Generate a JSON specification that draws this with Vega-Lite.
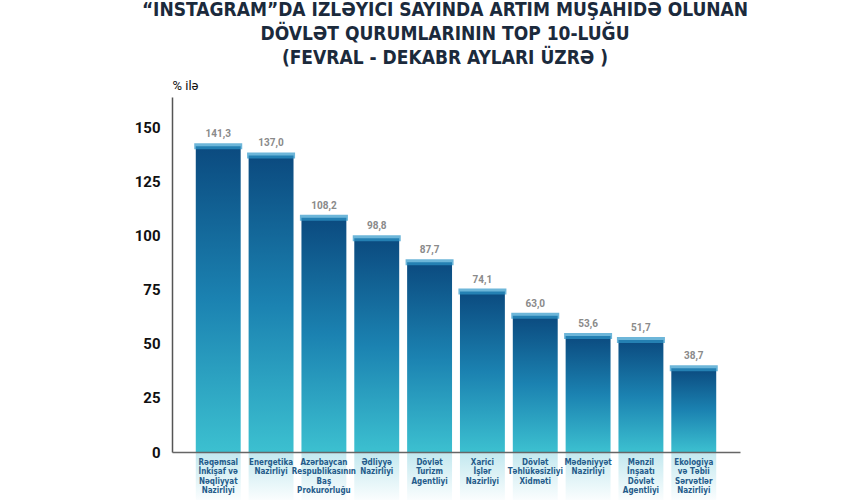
{
  "$schema": "https://vega.github.io/schema/vega-lite/v6.json",
  "autosize": "none",
  "width": 568,
  "height": 355,
  "padding": {"left": 172, "right": 110, "top": 97, "bottom": 48},
  "background": "white",
  "title": {
    "text": ["“INSTAGRAM”DA İZLƏYİCİ SAYINDA ARTIM MÜŞAHİDƏ OLUNAN", "DÖVLƏT QURUMLARININ TOP 10-LUĞU", "(FEVRAL - DEKABR AYLARI ÜZRƏ )"],
    "anchor": "middle",
    "font": "DejaVu Sans Condensed",
    "fontSize": 19,
    "fontWeight": "bold",
    "lineHeight": 24,
    "color": "#1b2a3c",
    "offset": 11,
    "dx": -11
  },
  "data": {
    "values": [
      {"org": "Rəqəmsal|İnkişaf və|Nəqliyyat|Nazirliyi", "value": 141.3, "label": "141,3"},
      {"org": "Energetika|Nazirliyi", "value": 137.0, "label": "137,0"},
      {"org": "Azərbaycan|Respublikasının|Baş|Prokurorluğu", "value": 108.2, "label": "108,2"},
      {"org": "Ədliyyə|Nazirliyi", "value": 98.8, "label": "98,8"},
      {"org": "Dövlət|Turizm|Agentliyi", "value": 87.7, "label": "87,7"},
      {"org": "Xarici|İşlər|Nazirliyi", "value": 74.1, "label": "74,1"},
      {"org": "Dövlət|Təhlükəsizliyi|Xidməti", "value": 63.0, "label": "63,0"},
      {"org": "Mədəniyyət|Nazirliyi", "value": 53.6, "label": "53,6"},
      {"org": "Mənzil|İnşaatı|Dövlət|Agentliyi", "value": 51.7, "label": "51,7"},
      {"org": "Ekologiya|və Təbii|Sərvətlər|Nazirliyi", "value": 38.7, "label": "38,7"}
    ]
  },
  "encoding": {
    "x": {
      "field": "org",
      "type": "nominal",
      "sort": null,
      "scale": {"paddingInner": 0.15, "paddingOuter": 0.45},
      "axis": {
        "title": null,
        "labelAngle": 0,
        "labelExpr": "split(datum.label, '|')",
        "labelFont": "DejaVu Sans Condensed",
        "labelFontSize": 8,
        "labelFontWeight": "bold",
        "labelColor": "#245b8a",
        "labelLineHeight": 9.5,
        "labelPadding": 6,
        "labelBaseline": "top",
        "ticks": false,
        "domainColor": "#666666",
        "domainWidth": 1.5,
        "zindex": 1
      }
    }
  },
  "layer": [
    {
      "mark": {
        "type": "bar",
        "color": {
          "gradient": "linear",
          "x1": 0, "y1": 0, "x2": 0, "y2": 1,
          "stops": [
            {"offset": 0, "color": "#c2e8ef"},
            {"offset": 1, "color": "#ffffff"}
          ]
        }
      },
      "encoding": {
        "y": {"datum": -24, "type": "quantitative"},
        "y2": {"datum": 0}
      }
    },
    {
      "mark": {
        "type": "bar",
        "color": {
          "gradient": "linear",
          "x1": 0, "y1": 0, "x2": 0, "y2": 1,
          "stops": [
            {"offset": 0, "color": "#0b4a7f"},
            {"offset": 0.5, "color": "#1b82b1"},
            {"offset": 1, "color": "#3cc0d0"}
          ]
        }
      },
      "encoding": {
        "y": {
          "field": "value",
          "type": "quantitative",
          "scale": {"domain": [0, 164], "nice": false},
          "axis": {
            "values": [0, 25, 50, 75, 100, 125, 150],
            "title": "% ilə",
            "titleAngle": 0,
            "titleX": 0,
            "titleY": -12,
            "titleAlign": "left",
            "titleBaseline": "middle",
            "titleFont": "Roboto",
            "titleFontSize": 13,
            "titleFontWeight": "normal",
            "titleColor": "#111111",
            "labelFont": "Roboto",
            "labelFontSize": 15,
            "labelFontWeight": "bold",
            "labelColor": "#111111",
            "labelPadding": 12,
            "ticks": false,
            "gridColor": "#cccccc",
            "gridWidth": 1.2,
            "domainColor": "#555555",
            "domainWidth": 1.5
          }
        }
      }
    },
    {
      "mark": {"type": "tick", "color": "#2f97c9", "thickness": 6, "size": 48},
      "encoding": {
        "y": {"field": "value", "type": "quantitative"}
      }
    },
    {
      "mark": {"type": "text", "dy": -12, "font": "Roboto", "fontSize": 10, "fontWeight": "bold", "color": "#8a8a8a"},
      "encoding": {
        "y": {"field": "value", "type": "quantitative"},
        "text": {"field": "label"}
      }
    }
  ],
  "config": {"view": {"stroke": null}}
}
